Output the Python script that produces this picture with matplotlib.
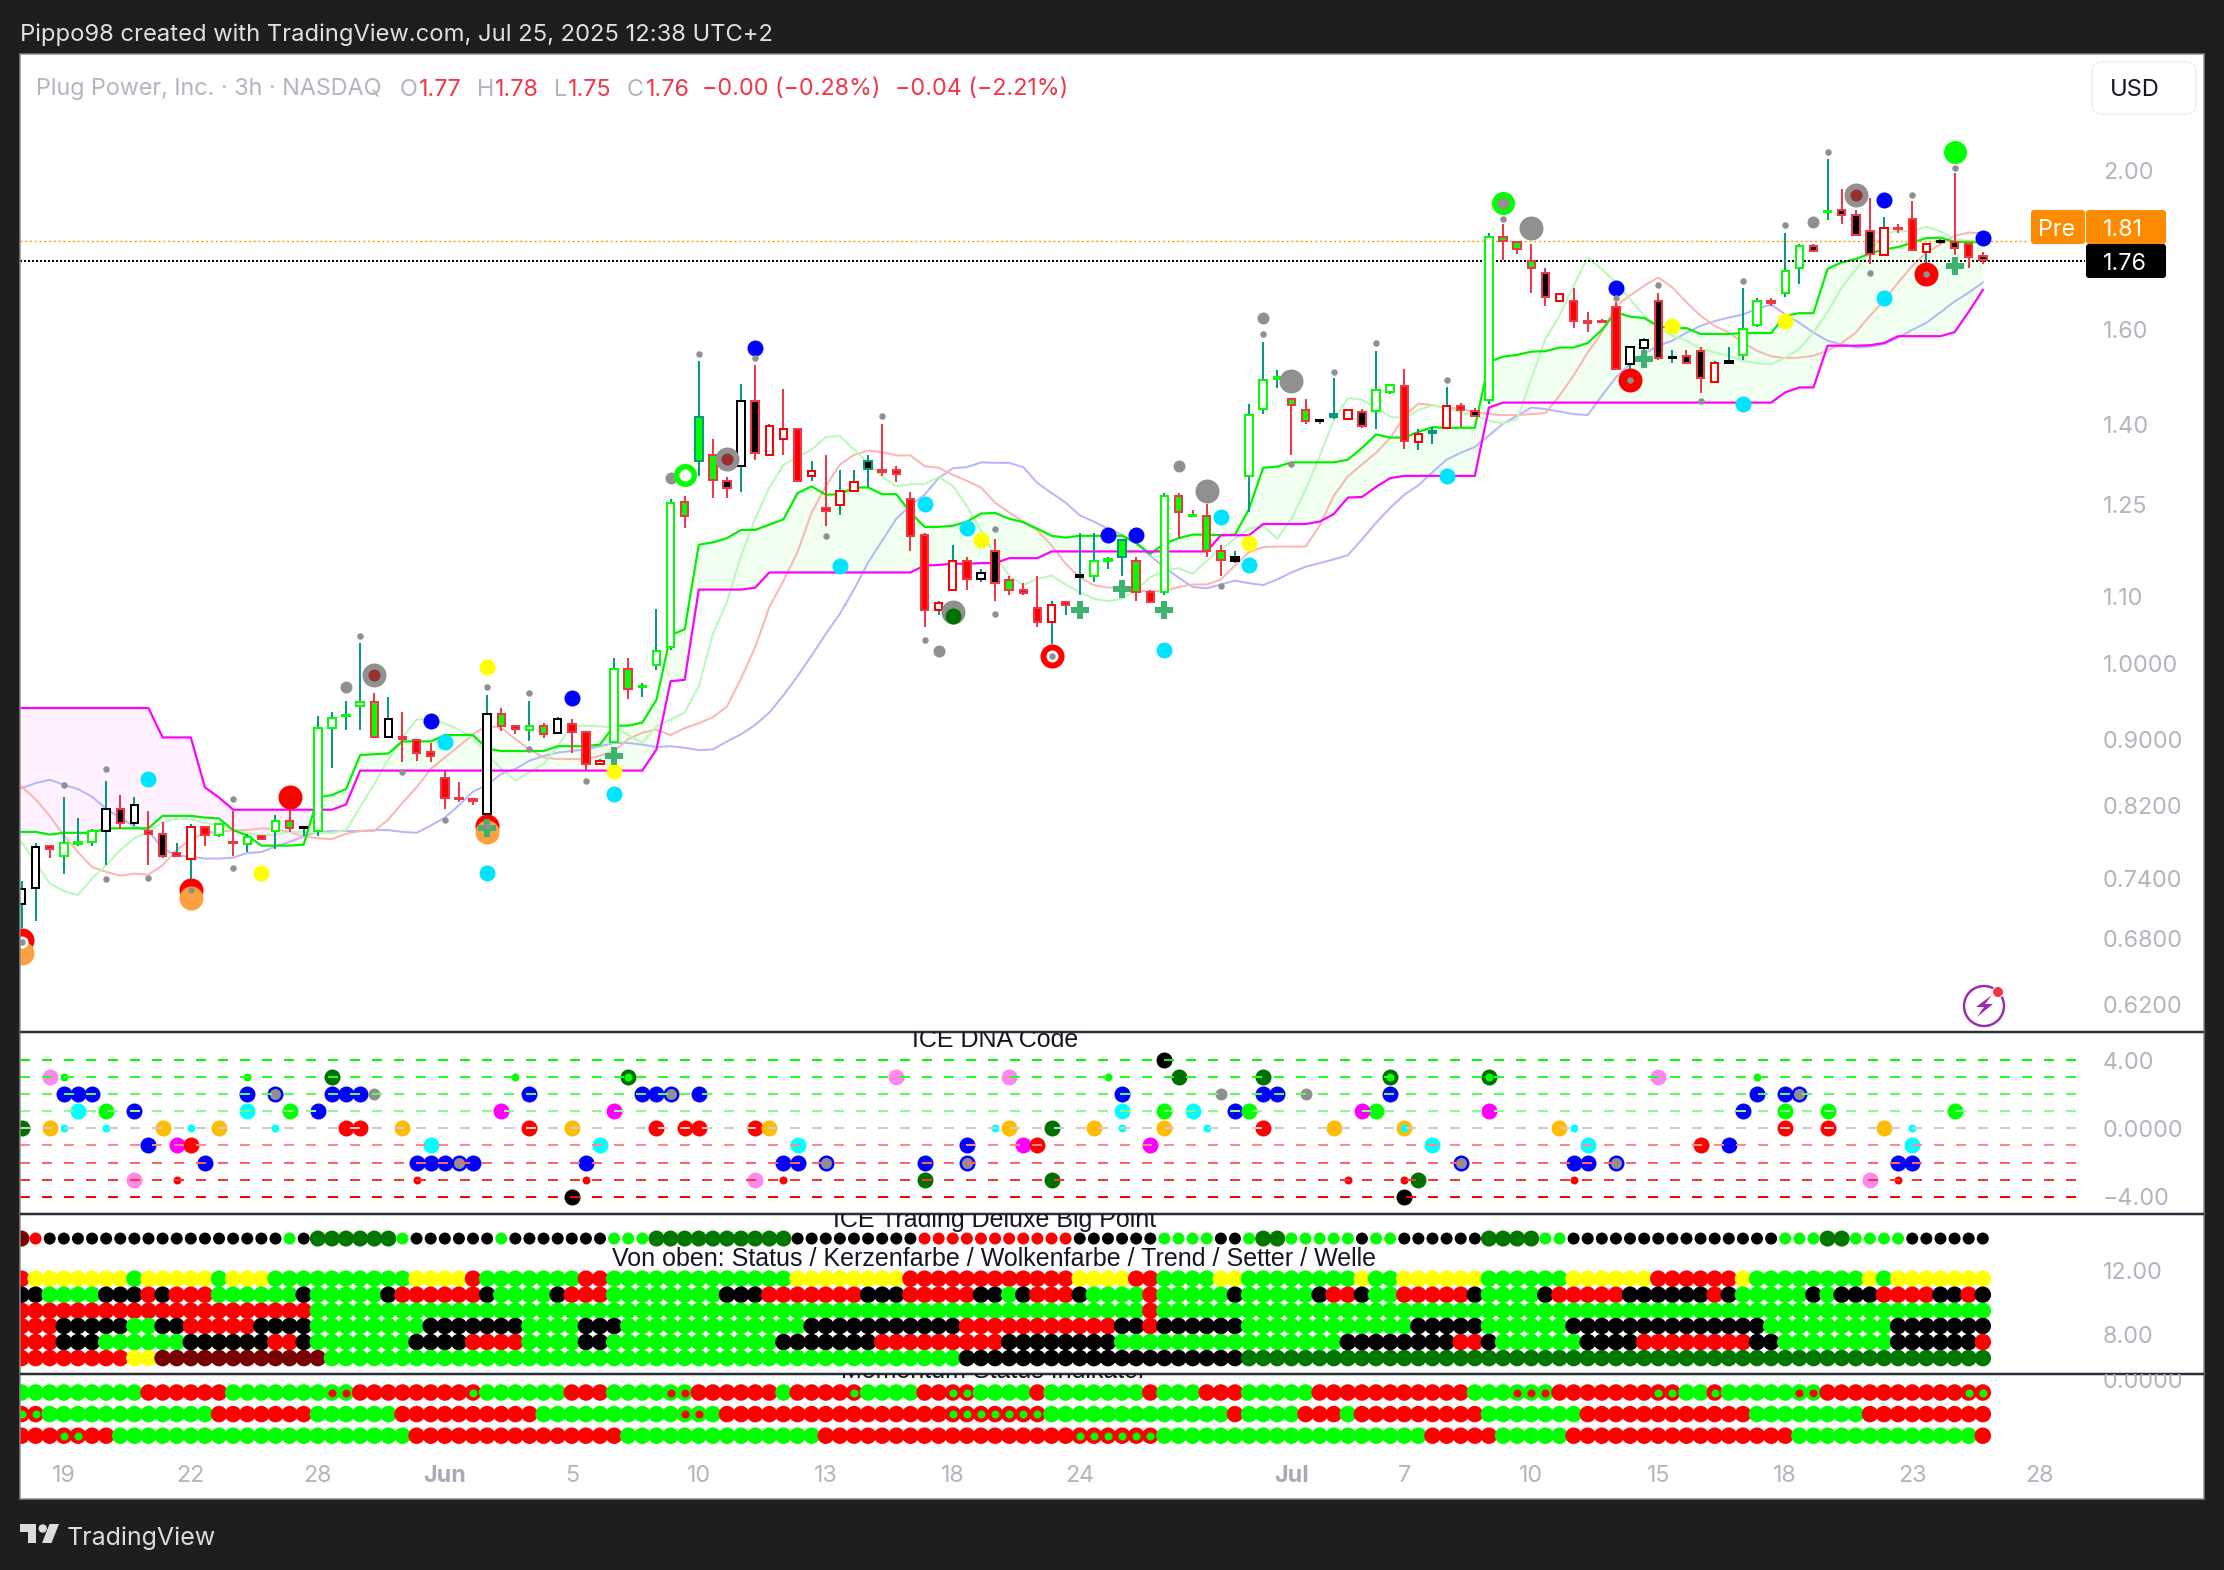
import matplotlib
matplotlib.use("Agg")
import matplotlib.pyplot as plt
import numpy as np
from matplotlib.patches import FancyBboxPatch, Polygon, Circle, Rectangle
from matplotlib.transforms import blended_transform_factory as blend

W, H = 2224, 1570
BG = '#1e1e1e'
TXT = '#b2b5be'
SANS = ['Inter', 'DejaVu Sans']
TITLE = ['Liberation Sans', 'DejaVu Sans']

# ---------- candles ----------
highs = [.737,.778,.776,.830,.806,.793,.848,.832,.830,.814,
 .801,.778,.799,.796,.800,.814,.788,.787,.809,.818,
 .795,.929,.935,.949,1.030,.960,.954,.935,.899,.895,
 .861,.847,.829,.957,.940,.917,.949,.920,.928,.925,
 .910,.875,1.009,1.009,.974,1.080,1.260,1.266,1.529,1.372,
 1.300,1.482,1.522,1.401,1.471,1.390,1.330,1.341,1.312,1.312,
 1.341,1.401,1.321,1.273,1.201,1.092,1.182,1.162,1.142,1.192,
 1.131,1.121,1.131,1.092,1.091,1.202,1.202,1.162,1.190,1.162,
 1.110,1.271,1.271,1.241,1.251,1.182,1.171,1.440,1.572,1.511,
 1.450,1.451,1.410,1.494,1.429,1.430,1.552,1.480,1.513,1.390,
 1.394,1.475,1.443,1.432,1.832,1.853,1.807,1.804,1.742,1.680,
 1.695,1.639,1.622,1.661,1.560,1.581,1.683,1.553,1.553,1.561,
 1.530,1.561,1.694,1.672,1.672,1.832,1.804,1.804,2.031,1.948,
 1.892,1.924,1.873,1.853,1.915,1.803,1.815,1.993,1.803,1.783]
tops = [.729,.773,.775,.778,.779,.791,.816,.816,.820,.791,
 .788,.767,.796,.796,.799,.779,.784,.785,.802,.802,
 .795,.914,.927,.931,.948,.948,.925,.902,.899,.884,
 .852,.829,.827,.932,.932,.916,.917,.917,.925,.919,
 .909,.873,.993,.993,.970,1.018,1.254,1.255,1.415,1.340,
 1.293,1.446,1.447,1.396,1.390,1.390,1.311,1.245,1.274,1.290,
 1.330,1.313,1.312,1.261,1.199,1.089,1.156,1.156,1.136,1.171,
 1.125,1.110,1.081,1.086,1.091,1.133,1.156,1.159,1.190,1.156,
 1.106,1.266,1.266,1.233,1.231,1.171,1.162,1.419,1.490,1.496,
 1.450,1.429,1.409,1.420,1.429,1.424,1.469,1.480,1.477,1.380,
 1.387,1.436,1.437,1.427,1.820,1.820,1.807,1.760,1.731,1.680,
 1.663,1.617,1.618,1.651,1.560,1.576,1.663,1.539,1.541,1.552,
 1.526,1.530,1.600,1.663,1.665,1.736,1.797,1.797,1.889,1.891,
 1.877,1.836,1.844,1.844,1.868,1.803,1.810,1.807,1.803,1.772]
bottoms = [.714,.730,.771,.764,.777,.779,.791,.800,.800,.788,
 .764,.764,.761,.787,.787,.778,.777,.782,.791,.794,
 .794,.791,.914,.929,.943,.902,.902,.900,.883,.879,
 .828,.827,.825,.810,.917,.913,.911,.906,.907,.909,
 .869,.869,.896,.966,.968,.999,1.024,1.231,1.329,1.295,
 1.280,1.321,1.345,1.341,1.372,1.293,1.301,1.240,1.250,1.275,
 1.315,1.310,1.305,1.196,1.078,1.078,1.110,1.127,1.126,1.121,
 1.110,1.104,1.061,1.061,1.086,1.130,1.131,1.156,1.162,1.106,
 1.091,1.106,1.237,1.231,1.172,1.157,1.156,1.301,1.430,1.491,
 1.438,1.407,1.406,1.414,1.411,1.396,1.426,1.465,1.368,1.365,
 1.382,1.393,1.428,1.417,1.449,1.810,1.789,1.742,1.673,1.663,
 1.617,1.613,1.615,1.512,1.523,1.557,1.537,1.536,1.526,1.494,
 1.485,1.526,1.543,1.608,1.659,1.682,1.742,1.784,1.885,1.878,
 1.826,1.778,1.774,1.840,1.787,1.783,1.807,1.793,1.769,1.763]
lows = [.690,.697,.762,.745,.775,.775,.754,.793,.797,.754,
 .762,.764,.740,.775,.784,.764,.768,.781,.771,.790,
 .786,.786,.864,.912,.912,.902,.902,.871,.873,.871,
 .816,.824,.820,.797,.910,.906,.898,.901,.906,.883,
 .861,.869,.895,.952,.955,.991,1.020,1.211,1.301,1.262,
 1.262,1.273,1.331,1.341,1.341,1.291,1.292,1.213,1.232,1.273,
 1.281,1.301,1.291,1.172,1.053,1.071,1.110,1.110,1.122,1.092,
 1.102,1.101,1.053,1.029,1.071,1.102,1.122,1.142,1.132,1.092,
 1.091,1.102,1.193,1.231,1.162,1.132,1.152,1.238,1.420,1.472,
 1.341,1.401,1.401,1.411,1.411,1.392,1.391,1.461,1.352,1.351,
 1.362,1.393,1.394,1.414,1.441,1.762,1.777,1.684,1.653,1.663,
 1.602,1.594,1.613,1.512,1.506,1.554,1.533,1.525,1.523,1.463,
 1.485,1.523,1.533,1.604,1.653,1.674,1.704,1.783,1.864,1.853,
 1.823,1.752,1.774,1.832,1.785,1.744,1.804,1.774,1.742,1.752]
candle_kinds = ("KKrGGGKkKr" "krRrGrGrGg" "BGGGGgKrrr" "rrrKgrGgKr" "rRGgGGGgTg"
                "kKkRRrRrRR" "trrrrRRrKk" "grrRrBGGTg" "rGgGggBGGG" "ggBuRkGGrR"
                "uRrkGgggkR" "rrrrKKkBkk" "RBGGrGGkGk" "kkRrrRBkrk")
wick_kinds = ("ttrttttrtr" "rttrtrtrtr" "tttttrtrrr" "rrrtrrtrtr" "rttrtttrtr"
              "rtrtrrtrtt" "trrrrttrtr" "rrrttttttr" "rtrrrrtttt" "rrttrrttrt"
              "ttrrtrrrrr" "rrrrttrtrr" "ttttrttrtr" "rrtrrtrrrr")

# ---------- overlay lines ----------
span_a = [.790,.790,.787,.789,.789,.789,.794,.794,.794,.794,
 .808,.808,.808,.806,.805,.792,.786,.775,.775,.775,
 .776,.829,.832,.839,.880,.881,.882,.897,.897,.897,
 .905,.905,.905,.888,.885,.885,.885,.885,.891,.891,
 .891,.893,.917,.917,.921,.951,1.041,1.050,1.182,1.186,
 1.193,1.207,1.207,1.216,1.225,1.271,1.283,1.268,1.269,1.281,
 1.281,1.269,1.269,1.237,1.212,1.212,1.214,1.221,1.235,1.236,
 1.226,1.220,1.209,1.197,1.194,1.197,1.197,1.197,1.197,1.185,
 1.167,1.184,1.193,1.199,1.199,1.198,1.199,1.243,1.317,1.319,
 1.327,1.327,1.327,1.327,1.332,1.354,1.380,1.374,1.374,1.385,
 1.394,1.393,1.393,1.393,1.528,1.539,1.543,1.550,1.551,1.559,
 1.559,1.569,1.598,1.638,1.628,1.625,1.606,1.602,1.602,1.589,
 1.589,1.589,1.591,1.591,1.591,1.630,1.636,1.636,1.741,1.757,
 1.765,1.779,1.789,1.795,1.806,1.818,1.819,1.808,1.808,1.807]
span_b = [.940,.940,.940,.940,.940,.940,.940,.940,.940,.940,
 .902,.902,.902,.841,.829,.815,.815,.815,.815,.815,
 .815,.815,.815,.821,.861,.861,.861,.861,.861,.861,
 .861,.861,.861,.861,.861,.861,.861,.861,.861,.861,
 .861,.861,.861,.861,.861,.887,.976,.978,1.110,1.110,
 1.110,1.110,1.113,1.137,1.137,1.137,1.137,1.137,1.137,1.137,
 1.137,1.137,1.137,1.137,1.148,1.149,1.151,1.151,1.152,1.152,
 1.160,1.160,1.160,1.171,1.171,1.171,1.171,1.171,1.171,1.171,
 1.171,1.171,1.171,1.171,1.171,1.198,1.198,1.198,1.217,1.217,
 1.217,1.217,1.221,1.234,1.263,1.264,1.282,1.298,1.302,1.302,
 1.302,1.302,1.302,1.302,1.433,1.443,1.443,1.443,1.443,1.443,
 1.443,1.443,1.443,1.443,1.443,1.443,1.443,1.443,1.443,1.443,
 1.443,1.443,1.443,1.443,1.443,1.464,1.474,1.474,1.563,1.563,
 1.563,1.564,1.569,1.584,1.584,1.584,1.584,1.593,1.639,1.690]
pale_blue = [.840,.846,.850,.844,.839,.830,.816,.806,.796,.791,
 .772,.764,.763,.761,.761,.762,.767,.768,.774,.779,
 .785,.790,.791,.791,.791,.792,.792,.790,.789,.797,
 .806,.820,.836,.844,.857,.863,.873,.879,.883,.885,
 .887,.891,.895,.895,.893,.890,.891,.889,.886,.887,
 .897,.906,.918,.934,.957,.983,1.012,1.043,1.073,1.110,
 1.153,1.189,1.226,1.249,1.268,1.298,1.316,1.318,1.327,1.326,
 1.326,1.318,1.289,1.271,1.254,1.232,1.221,1.209,1.199,1.184,
 1.164,1.145,1.129,1.114,1.112,1.118,1.124,1.120,1.117,1.126,
 1.137,1.146,1.152,1.158,1.165,1.191,1.219,1.245,1.268,1.285,
 1.309,1.332,1.345,1.356,1.378,1.401,1.417,1.433,1.430,1.425,
 1.420,1.418,1.457,1.495,1.523,1.545,1.563,1.574,1.592,1.607,
 1.618,1.626,1.633,1.646,1.656,1.633,1.614,1.592,1.574,1.566,
 1.559,1.561,1.566,1.581,1.598,1.614,1.638,1.663,1.684,1.708]
pale_red = [.842,.827,.808,.786,.768,.752,.747,.743,.745,.744,
 .754,.770,.782,.789,.790,.792,.792,.794,.793,.790,
 .785,.783,.782,.788,.791,.791,.804,.823,.841,.863,
 .877,.891,.906,.917,.914,.900,.887,.877,.875,.875,
 .875,.879,.885,.900,.908,.912,.905,.914,.920,.928,
 .942,.980,1.024,1.083,1.124,1.170,1.237,1.283,1.323,1.341,
 1.349,1.346,1.340,1.340,1.320,1.317,1.304,1.293,1.281,1.254,
 1.237,1.221,1.206,1.181,1.151,1.129,1.117,1.113,1.113,1.108,
 1.107,1.108,1.114,1.118,1.118,1.126,1.148,1.170,1.178,1.179,
 1.179,1.179,1.214,1.266,1.301,1.323,1.345,1.373,1.415,1.441,
 1.438,1.432,1.431,1.424,1.420,1.418,1.418,1.420,1.422,1.457,
 1.499,1.548,1.592,1.653,1.677,1.700,1.720,1.696,1.661,1.630,
 1.607,1.592,1.570,1.552,1.540,1.536,1.537,1.541,1.552,1.569,
 1.592,1.630,1.665,1.708,1.748,1.781,1.802,1.823,1.832,1.830]
pale_green = [.779,.757,.735,.727,.723,.740,.754,.770,.783,.790,
 .801,.805,.804,.800,.798,.792,.789,.786,.787,.790,
 .790,.789,.789,.792,.818,.845,.875,.902,.925,.925,
 .920,.912,.902,.881,.863,.849,.859,.869,.891,.917,
 .917,.916,.915,.905,.895,.916,.925,.934,.969,1.043,
 1.091,1.164,1.226,1.281,1.322,1.337,1.351,1.375,1.377,1.351,
 1.326,1.301,1.283,1.287,1.287,1.300,1.284,1.248,1.206,1.164,
 1.132,1.117,1.127,1.132,1.118,1.106,1.096,1.092,1.096,1.110,
 1.129,1.140,1.144,1.135,1.156,1.175,1.192,1.209,1.214,1.192,
 1.226,1.277,1.338,1.408,1.452,1.449,1.432,1.415,1.412,1.428,
 1.438,1.431,1.424,1.417,1.407,1.401,1.410,1.492,1.578,1.630,
 1.700,1.769,1.740,1.708,1.669,1.630,1.604,1.585,1.574,1.556,
 1.548,1.541,1.530,1.525,1.523,1.537,1.556,1.592,1.639,1.696,
 1.740,1.781,1.827,1.837,1.835,1.847,1.835,1.816,1.810,1.810]

# ---------- price pane markers (bar, price) ----------
gray_small = [(3,.844),(6,.863),(6,.740),(9,.741),(12,.728),(15,.827),(15,.751),(24,1.040),(27,.859),
 (30,.803),(33,.968),(33,.797),(36,.960),(36,.887),(40,.849),(0,.677),(48,1.544),(52,1.537),(57,1.196),
 (61,1.416),(64,1.034),(69,1.208),(69,1.072),(73,1.011),(85,1.116),(88,1.589),(90,1.323),(93,1.506),
 (96,1.568),(101,1.489),(105,1.868),(113,1.671),(116,1.702),(114,1.490),(119,1.446),(122,1.711),
 (125,1.852),(128,2.052),(131,1.731),(134,1.932),(135,1.729),(137,2.007)]
gray_medium = [(23,.968),(46,1.299),(65,1.019),(82,1.320),(88,1.624),(127,1.859)]
gray_large = [(25,.984),(50,1.333),(66,1.076),(84,1.274),(90,1.487),(107,1.844),(130,1.932)]
darkred_core = [(25,.984),(50,1.333),(130,1.932)]
darkgreen_core = [(66,1.070)]
blue_marks = [(29,.923),(39,.953),(52,1.557),(77,1.199),(79,1.199),(113,1.694),(132,1.918),(139,1.819)]
cyan_marks = [(9,.851),(30,.896),(42,.833),(33,.746),(58,1.148),(64,1.251),(67,1.210),(81,1.020),
 (85,1.229),(87,1.149),(101,1.302),(122,1.440),(132,1.671)]
yellow_marks = [(17,.746),(33,.996),(42,.861),(68,1.190),(87,1.185),(117,1.607),(125,1.618)]
red_marks = [(0,.679),(12,.728),(19,.830),(33,.797),(73,1.011),(114,1.490),(135,1.729)]
orange_marks = [(0,.667),(12,.720),(33,.790)]
white_cores = [(0,.677),(73,1.011),(47,1.304)]
green_marks = [(47,1.304),(105,1.910),(137,2.051)]
gray_cores = [(105,1.910)]
cross_marks = [(33,.794),(42,.879),(75,1.078),(78,1.111),(81,1.078),(115,1.534),(137,1.749)]

# ---------- axis labels ----------
price_ticks = [2.00,1.60,1.40,1.25,1.10,1.00,0.90,0.82,0.74,0.68,0.62]
price_labels = ['2.00','1.60','1.40','1.25','1.10','1.0000','0.9000','0.8200','0.7400','0.6800','0.6200']
date_bars = [3,12,21,30,39,48,57,66,75,90,98,107,116,125,134,143]
date_labels = ['19','22','28','Jun','5','10','13','18','24','Jul','7','10','15','18','23','28']

# ---------- DNA code pane: level -> bars ----------
dna_levels = [4,3,2,1,0,-1,-2,-3,-4]
dna_level_colors = ['#00ff00','#22ff22','#55ff55','#88ff88','#cccccc','#ff8888','#ff6666','#ff3333','#ff0000']
dna_blue = {2:[3,4,5,16,22,23,24,36,44,45,48,78,88,89,97,123,125], 1:[8,21,86,122], -1:[9,67,121],
            -2:[13,28,29,30,32,40,54,55,64,110,111,133,134]}
dna_bluegray = {2:[18,46,126], -2:[31,57,67,102,113]}
dna_cyan = {1:[4,16,78,83], -1:[29,41,55,100,111,134]}
dna_green = {1:[6,19,81,87,96,125,128,137]}
dna_magenta = {1:[34,42,95,104], -1:[11,71,80]}
dna_red = {0:[23,24,36,45,47,48,52,88,125,128], -1:[12,72,119]}
dna_orange = {0:[2,10,14,27,39,53,70,76,81,93,109,132]}
dna_pink = {3:[2,62,70,116], -3:[8,52,131]}
dna_darkgreen = {3:[22,82,88], 0:[0,73], -3:[64,73,99]}
dna_black = {4:[81], -4:[39,98]}
dna_gray = {2:[25,85,91]}
dna_tiny_green = {3:[3,16,35,77,123]}
dna_tiny_cyan = {0:[3,6,12,18,69,78,84,110,134]}
dna_tiny_red = {-3:[11,28,40,54,94,98,110,133]}
dna_dg_ring = {3:[43,97,104]}
dna_orange_cyan = {0:[98]}

# ---------- dot rows as (last bar, colour code) runs ----------
big_point = [(0,'D'),(1,'r'),(18,'k'),(19,'g'),(20,'k'),(26,'G'),(27,'g'),(33,'k'),(34,'g'),(41,'k'),(44,'g'),
 (54,'G'),(63,'k'),(74,'r'),(80,'k'),(84,'g'),(86,'k'),(87,'g'),(89,'G'),(94,'g'),(95,'k'),(97,'g'),(103,'k'),
 (107,'G'),(109,'g'),(124,'k'),(127,'g'),(129,'G'),(133,'g'),(139,'k')]
row_status = [(0,'r'),(7,'y'),(8,'g'),(13,'y'),(14,'g'),(17,'y'),(27,'g'),(31,'y'),(32,'r'),(39,'g'),(41,'r'),(54,'g'),
 (62,'y'),(74,'r'),(78,'y'),(80,'r'),(84,'g'),(86,'y'),(94,'g'),(95,'y'),(97,'g'),(103,'y'),(109,'g'),(115,'y'),
 (121,'r'),(122,'y'),(130,'g'),(131,'y'),(132,'g'),(139,'y')]
row_candle = [(1,'k'),(5,'g'),(8,'k'),(9,'r'),(10,'k'),(13,'r'),(19,'g'),(20,'k'),(25,'g'),(26,'k'),(32,'r'),(33,'k'),
 (37,'g'),(38,'k'),(41,'r'),(49,'g'),(52,'k'),(59,'r'),(62,'k'),(67,'r'),(69,'k'),(70,'g'),(71,'k'),(74,'r'),(75,'k'),
 (79,'g'),(80,'r'),(85,'g'),(86,'k'),(91,'g'),(92,'k'),(94,'r'),(95,'k'),(97,'g'),(102,'r'),(103,'k'),(107,'g'),
 (108,'k'),(113,'r'),(119,'k'),(120,'r'),(121,'k'),(126,'g'),(127,'k'),(128,'g'),(131,'k'),(135,'r'),(137,'k'),
 (138,'r'),(139,'k')]
row_cloud = [(20,'r'),(79,'g'),(80,'r'),(139,'g')]
row_trend = [(2,'r'),(7,'k'),(9,'g'),(11,'k'),(16,'r'),(20,'k'),(28,'g'),(35,'k'),(39,'g'),(42,'k'),(55,'g'),(66,'k'),
 (77,'r'),(79,'k'),(80,'r'),(86,'k'),(98,'g'),(103,'k'),(109,'g'),(123,'k'),(132,'g'),(139,'k')]
row_setter = [(2,'r'),(5,'k'),(11,'g'),(17,'k'),(19,'r'),(20,'k'),(27,'g'),(31,'k'),(35,'r'),(39,'g'),(41,'k'),(53,'g'),
 (60,'k'),(69,'r'),(77,'k'),(93,'g'),(101,'k'),(103,'r'),(104,'k'),(110,'g'),(114,'k'),(122,'r'),(124,'k'),(132,'g'),
 (138,'k'),(139,'r')]
row_wave = [(7,'r'),(9,'y'),(21,'D'),(66,'g'),(86,'k'),(139,'G')]
# momentum rows: 'x' = red dot with green core, 'z' = green dot with red core
mom_one = [(8,'g'),(14,'r'),(21,'g'),(23,'z'),(31,'r'),(32,'x'),(38,'g'),(41,'r'),(45,'g'),(47,'z'),(53,'r'),(54,'g'),
 (58,'r'),(59,'x'),(63,'g'),(65,'r'),(67,'x'),(71,'g'),(72,'r'),(79,'g'),(80,'r'),(83,'g'),(86,'r'),(91,'g'),(102,'r'),
 (105,'g'),(108,'z'),(115,'r'),(117,'x'),(119,'g'),(120,'x'),(125,'g'),(127,'z'),(137,'r'),(139,'x')]
mom_two = [(1,'x'),(13,'g'),(20,'r'),(26,'g'),(36,'r'),(46,'g'),(48,'z'),(49,'g'),(65,'r'),(72,'x'),(85,'g'),(86,'r'),
 (90,'g'),(93,'r'),(94,'g'),(103,'r'),(110,'g'),(122,'r'),(130,'g'),(139,'r')]
mom_three = [(2,'r'),(4,'x'),(6,'r'),(27,'g'),(42,'r'),(56,'g'),(74,'r'),(80,'x'),(99,'g'),(104,'r'),(109,'g'),(125,'r'),
 (138,'g'),(139,'r')]

# ---------- helpers ----------
PX = 0.72  # one pixel in points at dpi 100
def pxw(d):
    return (d * PX) ** 2
def axpx(l, t, r, b, z=1):
    a = fig.add_axes([l / W, 1 - b / H, (r - l) / W, (b - t) / H], zorder=z, facecolor='white')
    for s in a.spines.values():
        s.set_visible(False)
    a.set_xticks([]); a.set_yticks([])
    return a
def expand(runs):
    out, start = [], 0
    for last, code in runs:
        out += [code] * (last - start + 1)
        start = last + 1
    return out
def pts(ax, marks, color, d, z):
    ax.scatter([m[0] for m in marks], [m[1] for m in marks], s=pxw(d), c=color, linewidths=0, zorder=z)

fig = plt.figure(figsize=(W / 100, H / 100), dpi=100, facecolor=BG)
L, R = 20, 2204
xlim = ((L - 21.5) / 14.11, (R - 21.5) / 14.11)
T_MAIN, SEP1, SEP2, SEP3, BOT = 54, 1032, 1214, 1373.5, 1499

ax = axpx(L, T_MAIN, R, SEP1)
ax.set_yscale('log')
ax.set_xlim(*xlim)
ax.set_ylim(0.5966, 2.3536)
ax.set_xticks([]); ax.set_yticks([]); ax.minorticks_off()
ax.tick_params(which='both', length=0, labelleft=False)
ax.set_yticks([], minor=True)

bars = np.arange(140)
a_, b_ = np.array(span_a), np.array(span_b)
ax.fill_between(bars, a_, b_, where=a_ >= b_, color='#00ff00', alpha=0.055, lw=0, interpolate=True, zorder=1)
ax.fill_between(bars, a_, b_, where=a_ <= b_, color='#ff00ff', alpha=0.055, lw=0, interpolate=True, zorder=1)
ax.plot(bars, pale_blue, color='#b6b6fa', lw=2 * PX, zorder=2)
ax.plot(bars, pale_red, color='#fab6b0', lw=2 * PX, zorder=2)
ax.plot(bars, pale_green, color='#b8f8b8', lw=2 * PX, zorder=2)
ax.plot(bars, span_a, color='#00f000', lw=2.2 * PX, zorder=3)
ax.plot(bars, span_b, color='#ff00ff', lw=2.2 * PX, zorder=3)

ax.axhline(1.81, xmin=0, xmax=(2028 - L) / (R - L), color='#ff9800', lw=1.4 * PX, ls=(0, (1.4, 2)), zorder=3)
ax.axhline(1.76, xmin=0, xmax=(2085 - L) / (R - L), color='black', lw=2 * PX, ls=(0, (1, 1)), zorder=3)

FACE = {'K':'white','G':'white','R':'white','r':'#ff0000','g':'#00ff00','k':'black','T':'#00ff00','t':'black',
        'u':'#089981','B':'black'}
EDGE = {'K':'black','G':'#00ff00','R':'#ff0000','r':'#f23645','g':'#f23645','k':'#f23645','T':'#089981','t':'#089981',
        'u':'#089981','B':'black'}
WICK = {'t':'#089981','r':'#f23645'}
ax.vlines(bars, lows, highs, colors=[WICK[w] for w in wick_kinds], lw=2 * PX, zorder=4)
ax.bar(bars, np.array(tops) - np.array(bottoms), bottom=bottoms, width=0.53,
       color=[FACE[c] for c in candle_kinds], edgecolor=[EDGE[c] for c in candle_kinds],
       linewidth=2 * PX, zorder=5)

pts(ax, gray_large, '#909090', 24, 6)
pts(ax, darkred_core, '#98302d', 12, 7)
pts(ax, darkgreen_core, '#007000', 16, 7)
pts(ax, gray_medium, '#909090', 12, 6)
pts(ax, blue_marks, '#0000ff', 16, 6)
pts(ax, cyan_marks, '#00e5ff', 16, 6)
pts(ax, yellow_marks, '#ffff00', 16, 6)
pts(ax, red_marks, '#ff0000', 24, 6)
pts(ax, orange_marks, '#ffa040', 24, 7)
pts(ax, green_marks, '#00ff00', 23, 6)
pts(ax, white_cores, 'white', 12, 8)
pts(ax, gray_cores, '#909090', 12, 8)
ax.plot([m[0] for m in cross_marks], [m[1] for m in cross_marks], ls='', marker='+', ms=18 * PX, mew=6 * PX,
        color='#3cb371', zorder=9)
pts(ax, gray_small, '#909090', 6.5, 10)

# ---- DNA pane ----
dn = axpx(L, SEP1, R, SEP2)
dn.set_xlim(*xlim); dn.set_ylim(-5.01, 5.64)
groups = [(dna_blue,'#0000ff',16),(dna_cyan,'#00ffff',16),(dna_green,'#00ff00',16),(dna_magenta,'#ff00ff',16),
          (dna_red,'#ff0000',16),(dna_orange,'#ffbb00',16),(dna_pink,'#ff88ee',16),(dna_darkgreen,'#007000',16),
          (dna_black,'#000000',16),(dna_gray,'#909090',12),(dna_tiny_green,'#00ff00',8),(dna_tiny_cyan,'#00ffff',8),
          (dna_tiny_red,'#ff0000',8),(dna_bluegray,'#0000ff',16),(dna_dg_ring,'#007000',16),(dna_orange_cyan,'#ffbb00',16)]
for g, col, d in groups:
    for lev, ii in g.items():
        dn.scatter(ii, [lev] * len(ii), s=pxw(d), c=col, linewidths=0, zorder=2)
for lev, ii in dna_bluegray.items():
    dn.scatter(ii, [lev] * len(ii), s=pxw(11), c='#909090', linewidths=0, zorder=2.2)
for lev, ii in dna_dg_ring.items():
    dn.scatter(ii, [lev] * len(ii), s=pxw(8), c='#00ff00', linewidths=0, zorder=2.2)
for lev, ii in dna_orange_cyan.items():
    dn.scatter(ii, [lev] * len(ii), s=pxw(8), c='#00ffff', linewidths=0, zorder=2.2)
for lev, col in zip(dna_levels, dna_level_colors):
    dn.plot([xlim[0], (2076 - 21.5) / 14.11], [lev, lev], color=col, lw=2 * PX, dash_capstyle='butt',
            ls=(0, (5, 6)), zorder=3)

# ---- big point pane ----
bp = axpx(L, SEP2, R, SEP3)
bp.set_xlim(*xlim); bp.set_ylim(5.59, 15.53)
CC = {'r':'#ff0000','g':'#00ff00','k':'#000000','y':'#ffff00','D':'#780000','G':'#007800'}
top_codes = expand(big_point)
bp.scatter(bars, [14] * 140, s=[pxw(16 if c in 'DG' else 12) for c in top_codes],
           c=[CC[c] for c in top_codes], linewidths=0, zorder=2)
for val, row in zip([11.5, 10.5, 9.5, 8.55, 7.55, 6.55],
                    [row_status, row_candle, row_cloud, row_trend, row_setter, row_wave]):
    codes = expand(row)
    bp.scatter(bars, [val] * 140, s=pxw(16.5), c=[CC[c] for c in codes], linewidths=0, zorder=2)

# ---- momentum pane ----
mo = axpx(L, SEP3, R, BOT)
mo.set_xlim(*xlim); mo.set_ylim(-2.93, 2.88)
for val, row in zip([2, 1, 0], [mom_one, mom_two, mom_three]):
    codes = expand(row)
    outer = ['#ff0000' if c in 'rx' else '#00ff00' for c in codes]
    mo.scatter(bars, [val] * 140, s=pxw(16.5), c=outer, linewidths=0, zorder=2)
    xs = [i for i, c in zip(bars, codes) if c == 'x']
    zs = [i for i, c in zip(bars, codes) if c == 'z']
    mo.scatter(xs, [val] * len(xs), s=pxw(8), c='#00ff00', linewidths=0, zorder=3)
    mo.scatter(zs, [val] * len(zs), s=pxw(8), c='#ff0000', linewidths=0, zorder=3)

# ---- overlay: frame, labels, header ----
ov = fig.add_axes([0, 0, 1, 1], zorder=20)
ov.set_xlim(0, W); ov.set_ylim(H, 0); ov.axis('off'); ov.patch.set_visible(False)
ov.add_patch(Rectangle((L, T_MAIN), R - L, BOT - T_MAIN, fill=False, ec='#8a8a8a', lw=1.5 * PX))
for y in (SEP1, SEP2, SEP3):
    ov.plot([L, R], [y, y], color='#2a2e39', lw=2.5 * PX, solid_capstyle='butt')

TICK_PT = 16.8
LABX = 2103
def right_label(a, val, s, color=TXT):
    tr = blend(ov.transData, a.transData)
    t = ov.text(LABX, val, s, transform=tr, ha='left', va='center_baseline', color=color, fontsize=TICK_PT, family=SANS)
    t.set_clip_box(a.bbox); t.set_clip_on(True)
    return t
for v, s in zip(price_ticks, price_labels):
    right_label(ax, v, s)
right_label(dn, 4, '4.00'); right_label(dn, 0, '0.0000'); right_label(dn, -4, '\u22124.00')
right_label(bp, 12, '12.00'); right_label(bp, 8, '8.00')
right_label(mo, 2.6, '0.0000')

for b, s in zip(date_bars, date_labels):
    bold = s in ('Jun', 'Jul')
    mo.text(b, -1.75, s, ha='center', va='center_baseline', color='#a8abb5' if bold else TXT, fontsize=TICK_PT,
            family=SANS, fontweight='bold' if bold else 'normal')

# indicator titles, cut off by the pane above them as in the source
def pane_title(x, y, s, a, fs=18.0):
    t = ov.text(x, y, s, ha='center', va='baseline', color='#131722', fontsize=fs, family=TITLE)
    t.set_clip_box(a.bbox); t.set_clip_on(True)
pane_title(995, 1047, 'ICE DNA Code', dn)
pane_title(995, 1226.5, 'ICE Trading Deluxe Big Point', bp)
pane_title(994, 1266, 'Von oben: Status / Kerzenfarbe / Wolkenfarbe / Trend / Setter / Welle', bp)
pane_title(994, 1378, 'Momentum Status Indikator', mo)

# header
ov.text(20, 32, 'Pippo98 created with TradingView.com, Jul 25, 2025 12:38 UTC+2', color='#e0e0e0', fontsize=17.1,
        family=SANS, ha='left', va='center_baseline')
LEG = 16.8
ov.text(36, 87, 'Plug Power, Inc. \u00b7 3h \u00b7 NASDAQ', color=TXT, fontsize=LEG, family=SANS, ha='left', va='center_baseline')
for x, s, c in [(400,'O',TXT),(419,'1.77','#f23645'),(477,'H',TXT),(495,'1.78','#f23645'),(554,'L',TXT),(568,'1.75','#f23645'),
                (627,'C',TXT),(646,'1.76','#f23645'),(702,'\u22120.00 (\u22120.28%)','#f23645'),(895,'\u22120.04 (\u22122.21%)','#f23645')]:
    ov.text(x, 87, s, color=c, fontsize=LEG, family=SANS, ha='left', va='center_baseline')

# USD box
ov.add_patch(FancyBboxPatch((2102, 72), 84, 32, boxstyle='round,pad=10,rounding_size=10', fc='white', ec='#eef0f5', lw=1.5 * PX))
ov.text(2135, 87, 'USD', color='#131722', fontsize=17, family=SANS, ha='center', va='center_baseline')

# price tags
ORANGE = '#ff8c00'
ov.add_patch(FancyBboxPatch((2034, 213), 48, 28, boxstyle='round,pad=3,rounding_size=3', fc=ORANGE, ec='none'))
ov.add_patch(FancyBboxPatch((2089, 213), 74, 28, boxstyle='round,pad=3,rounding_size=3', fc=ORANGE, ec='none'))
ov.add_patch(FancyBboxPatch((2089, 247), 74, 28, boxstyle='round,pad=3,rounding_size=3', fc='black', ec='none'))
ov.text(2057, 227, 'Pre', color='white', fontsize=TICK_PT, family=SANS, ha='center', va='center_baseline')
ov.text(LABX, 227, '1.81', color='white', fontsize=TICK_PT, family=SANS, ha='left', va='center_baseline')
ov.text(LABX, 261, '1.76', color='white', fontsize=TICK_PT, family=SANS, ha='left', va='center_baseline')

# bolt icon
ov.add_patch(Circle((1984, 1006), 20, fill=False, ec='#9c27b0', lw=2.4 * PX))
ov.add_patch(Polygon([(1992, 995), (1976, 1007), (1984, 1007), (1977, 1017), (1993, 1004), (1985, 1004)], fc='#9c27b0', ec='none'))
ov.add_patch(Circle((1998, 992), 5.5, fc='#f23645', ec='white', lw=1 * PX))

# logo
LOGO = '#dcdcdc'
ov.add_patch(Polygon([(20, 1524), (35.7, 1524), (35.7, 1543), (27.7, 1543), (27.7, 1532), (20, 1532)], fc=LOGO, ec='none'))
ov.add_patch(Circle((42.7, 1528.5), 4.2, fc=LOGO, ec='none'))
ov.add_patch(Polygon([(59, 1524), (49.5, 1524), (42, 1543), (51.5, 1543)], fc=LOGO, ec='none'))
ov.text(67, 1536, 'TradingView', color=LOGO, fontsize=18, family=SANS, ha='left', va='center_baseline')

fig.savefig('out.png', dpi=100, facecolor=BG)
